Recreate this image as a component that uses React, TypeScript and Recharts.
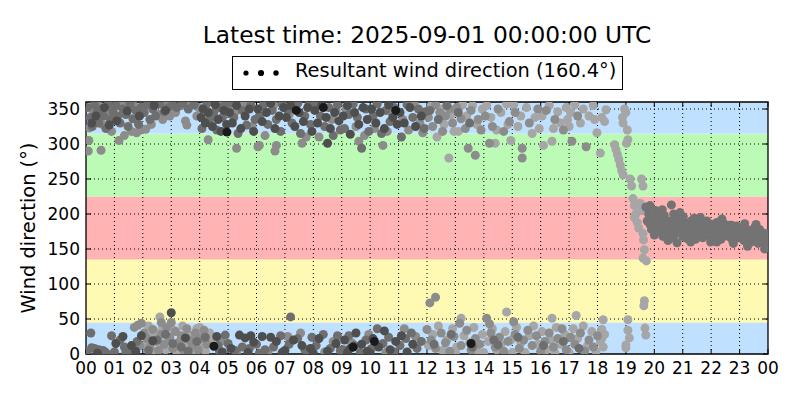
import React from 'react';
import { ScatterChart, Scatter, XAxis, YAxis, ReferenceArea, ReferenceLine, Legend, Label } from 'recharts';

const FONT = '"DejaVu Sans", Verdana, sans-serif';

const titleText = 'Latest time: 2025-09-01 00:00:00 UTC';
const legendText = 'Resultant wind direction (160.4°)';

const xTicks = [0, 1, 2, 3, 4, 5, 6, 7, 8, 9, 10, 11, 12, 13, 14, 15, 16, 17, 18, 19, 20, 21, 22, 23, 24];
const xTickLabels = ['00', '01', '02', '03', '04', '05', '06', '07', '08', '09', '10', '11', '12', '13', '14', '15', '16', '17', '18', '19', '20', '21', '22', '23', '00'];
const yTicks = [0, 50, 100, 150, 200, 250, 300, 350];
const bandEdges = [0, 45, 135, 225, 315, 360];

// [hour, degrees]
const pointsBlack: [number, number][] = [
  [4.96, 317], [7.4, 348], [8.35, 352], [10.9, 348], [4.5, 11], [9.4, 10], [10.15, 18], [13.55, 15],
];

const pointsDark: [number, number][] = [
  [0.2, 330], [0.35, 340], [0.65, 352], [0.82, 327], [1.08, 333], [1.45, 347], [1.88, 340], [2.4, 355], [2.8, 348],
  [4.05, 338], [4.12, 350], [4.2, 330], [4.3, 345], [4.45, 325], [4.55, 356], [4.65, 335], [4.75, 318], [4.85, 348], [4.95, 328],
  [5.05, 345], [5.15, 330], [5.3, 355], [5.45, 322], [5.6, 340], [5.75, 350], [5.9, 318],
  [6.05, 350], [6.2, 332], [6.35, 345], [6.5, 358], [6.65, 322], [6.8, 340], [6.95, 352],
  [7.05, 338], [7.2, 355], [7.35, 325], [7.5, 345], [7.65, 332], [7.8, 352], [7.95, 318],
  [8.05, 348], [8.15, 330], [8.3, 356], [8.45, 338], [8.5, 301], [8.6, 322], [8.75, 345], [8.9, 333],
  [9.05, 340], [9.2, 355], [9.3, 314], [9.45, 345], [9.6, 328], [9.75, 352], [9.9, 335],
  [10.05, 350], [10.2, 330], [10.35, 345], [10.5, 322], [10.65, 356], [10.8, 338], [10.95, 328],
  [11.05, 345], [11.2, 330], [11.4, 352], [11.6, 325], [11.8, 340],
  [1.05, 15], [1.3, 25], [1.6, 12], [1.95, 26], [1.75, 4], [0.4, 1], [3.0, 59], [2.35, 19], [3.5, 23],
  [4.6, 25], [5.4, 27], [5.6, 23], [5.8, 26], [5.9, 17], [6.2, 25], [6.5, 24], [6.7, 18], [7.0, 5], [7.3, 20],
  [7.6, 12], [7.9, 8], [8.2, 22], [8.5, 4], [8.8, 15], [5.1, 8], [5.7, 2], [6.9, 2], [8.0, 1], [4.8, 3],
  [9.1, 20], [9.3, 8], [9.5, 30], [9.7, 14], [9.9, 4], [10.1, 22], [10.3, 10], [10.5, 33], [10.7, 6], [10.9, 18],
  [11.1, 26], [11.3, 3], [11.5, 14], [9.2, 2], [10.0, 1],
];

const pointsMid: [number, number][] = [
  [0.05, 352], [0.15, 338], [0.22, 325], [0.3, 356], [0.38, 345], [0.45, 330], [0.55, 350], [0.62, 340], [0.7, 322], [0.78, 357], [0.85, 335], [0.95, 346],
  [1.05, 355], [1.12, 340], [1.2, 330], [1.3, 350], [1.4, 342], [1.48, 325], [1.55, 357], [1.65, 336], [1.75, 348], [1.85, 328], [1.95, 353],
  [2.05, 345], [2.15, 356], [2.25, 335], [2.35, 350], [2.45, 340], [2.6, 357], [2.75, 346], [2.9, 352],
  [3.05, 356], [3.2, 352], [3.4, 358], [3.6, 350], [3.8, 356],
  [4.08, 322], [4.25, 357], [4.35, 335], [4.5, 345], [4.6, 320], [4.7, 352], [4.8, 338], [4.9, 355],
  [5.1, 358], [5.2, 338], [5.35, 315], [5.5, 348], [5.65, 327], [5.8, 356], [5.95, 335],
  [6.1, 340], [6.25, 356], [6.4, 328], [6.55, 348], [6.7, 335], [6.85, 318], [6.9, 357],
  [7.1, 348], [7.25, 330], [7.45, 358], [7.55, 315], [7.7, 340], [7.85, 356], [7.9, 328],
  [8.1, 357], [8.25, 340], [8.4, 325], [8.55, 352], [8.7, 312], [8.85, 356], [8.95, 320],
  [9.1, 322], [9.25, 342], [9.4, 357], [9.55, 338], [9.7, 294], [9.85, 350], [9.95, 318],
  [10.1, 340], [10.25, 357], [10.4, 315], [10.55, 348], [10.7, 332], [10.85, 352],
  [11.1, 310], [11.3, 356], [11.5, 338], [11.7, 350], [11.9, 322], [11.95, 346],
  [12.1, 348], [12.4, 335], [12.7, 355], [13.1, 345], [13.5, 330],
  [0.17, 30], [0.2, 9], [0.3, 8], [0.45, 6], [0.6, 5], [0.9, 26], [1.2, 20], [1.35, 10], [1.55, 5], [1.8, 18], [0.05, 3], [0.7, 2], [1.0, 3], [1.4, 2],
  [2.2, 5], [2.5, 20], [2.8, 28], [3.05, 15], [3.35, 10], [3.6, 4], [3.9, 18], [4.2, 24],
  [4.65, 12], [4.9, 27], [5.0, 15], [5.25, 5], [5.5, 10], [5.75, 8], [6.0, 14], [6.3, 6], [6.6, 10], [6.85, 26], [7.15, 14], [7.2, 53],
  [7.45, 22], [7.7, 6], [7.95, 24], [8.1, 12], [8.35, 28], [8.6, 8], [8.85, 26], [8.95, 5], [4.7, 4], [6.1, 1], [7.85, 2],
  [9.05, 6], [9.25, 26], [9.45, 12], [9.65, 2], [9.85, 20], [10.05, 8], [10.25, 36], [10.45, 15], [10.65, 24], [10.85, 3],
  [11.05, 12], [11.25, 22], [11.45, 30], [11.65, 8], [11.8, 18],
  [12.25, 14], [12.85, 28], [13.6, 10], [14.35, 20], [14.5, 13], [15.2, 24], [16.1, 12], [16.8, 18], [17.35, 8],
];

// resultant direction after the wind shift (20–24 h)
const pointsTail: [number, number][] = [
  [19.7, 210], [19.75, 190], [19.8, 200], [19.85, 185], [19.9, 178], [19.95, 192], [20.0, 170], [20.05, 205], [20.15, 195], [20.2, 175],
  [20.25, 188], [20.35, 198], [20.4, 180], [20.45, 172], [20.5, 190], [20.55, 176], [20.6, 213], [20.65, 185], [20.7, 170], [20.75, 180],
  [20.8, 159], [20.85, 192], [20.95, 183], [21.0, 168], [21.05, 188], [21.1, 178], [21.15, 165], [21.25, 174], [21.3, 190], [21.35, 170],
  [21.4, 182], [21.5, 178], [21.55, 187], [21.6, 172], [21.65, 180], [21.7, 166], [21.75, 184], [21.8, 175], [21.85, 190], [21.95, 180],
  [22.0, 173], [22.05, 185], [22.1, 166], [22.15, 178], [22.25, 170], [22.3, 182], [22.4, 176], [22.45, 186], [22.5, 172], [22.55, 180],
  [22.6, 168], [22.65, 184], [22.7, 174], [22.8, 178], [22.85, 170], [22.9, 183], [22.95, 166], [23.0, 175], [23.05, 168], [23.1, 180],
  [23.2, 172], [23.3, 166], [23.35, 174], [23.45, 170], [23.5, 176], [23.55, 164], [23.6, 172], [23.75, 175], [23.8, 162], [23.85, 170],
  [23.95, 172], [23.98, 165], [20.02, 188], [20.38, 186], [20.72, 192], [21.12, 184], [21.52, 168], [21.92, 186], [22.32, 174], [22.72, 184],
  [23.12, 170], [23.52, 180], [23.92, 164], [20.6, 166], [21.3, 178], [22.1, 178], [22.9, 174], [23.7, 178],
  [20.3, 168], [20.9, 175], [21.45, 164], [21.9, 170], [22.35, 164], [22.75, 162], [23.15, 162], [23.4, 160], [23.65, 158], [23.9, 156],
  [20.1, 182], [21.2, 185], [22.2, 188], [23.25, 178],
  [19.85, 212], [20.08, 200], [20.28, 206], [20.48, 162], [20.68, 200], [21.02, 196], [21.28, 160], [21.62, 195], [21.98, 160],
  [22.38, 193], [22.78, 158], [23.18, 186], [23.58, 185], [23.88, 150], [23.28, 154], [22.2, 160], [21.4, 194], [20.9, 202],
];

const pointsGray: [number, number][] = [
  [0.1, 305], [0.12, 323], [0.08, 290], [0.25, 348], [0.42, 355], [0.53, 291], [0.58, 328], [0.75, 346], [0.9, 318], [0.98, 352],
  [1.16, 305], [1.35, 312], [1.6, 318], [1.78, 316], [1.9, 320], [1.25, 358], [1.7, 354],
  [2.1, 321], [2.3, 328], [2.55, 342], [2.7, 335], [2.85, 358], [2.95, 340],
  [3.15, 345], [3.35, 355], [3.5, 333], [3.7, 357], [3.9, 340], [3.97, 352], [3.55, 327],
  [4.3, 306], [4.4, 342], [4.72, 358], [5.3, 294], [5.25, 346], [5.55, 358], [5.85, 325],
  [6.05, 296], [6.1, 298], [6.65, 290], [6.7, 298], [6.3, 312], [6.6, 355],
  [7.6, 301], [7.15, 342], [7.75, 310], [8.2, 310], [8.65, 335], [8.8, 348],
  [9.6, 304], [9.15, 350], [9.5, 325], [9.8, 312], [10.45, 298], [10.6, 318], [10.15, 322], [10.75, 345],
  [11.15, 335], [11.35, 320], [11.55, 357], [11.75, 330], [11.85, 316],
  [12.05, 338], [12.2, 325], [12.3, 356], [12.45, 345], [12.55, 318], [12.65, 340], [12.8, 350], [12.9, 330],
  [13.05, 352], [13.2, 336], [13.35, 322], [13.45, 294], [13.55, 348], [13.7, 284], [13.8, 335], [13.9, 320],
  [14.05, 340], [14.2, 301], [14.3, 325], [14.5, 350], [14.7, 318], [14.9, 332],
  [15.1, 345], [15.35, 294], [15.35, 280], [15.6, 330], [15.9, 350], [16.2, 348], [16.5, 335], [16.8, 320],
  [17.1, 304], [17.3, 340], [17.6, 296],
  [1.7, 38], [1.82, 41], [1.95, 44], [1.9, 12],
  [2.05, 30], [2.15, 22], [2.25, 10], [2.35, 35], [2.45, 18], [2.55, 5], [2.65, 28], [2.75, 14], [2.85, 38], [2.95, 24],
  [3.05, 8], [3.15, 32], [3.25, 16], [3.35, 26], [3.45, 4], [3.55, 36], [3.65, 20], [3.75, 12], [3.85, 30], [3.95, 6],
  [4.05, 22], [4.15, 34], [4.25, 14], [2.65, 45], [3.0, 45],
  [4.75, 18], [5.3, 2], [6.4, 3], [7.1, 25], [7.55, 30], [8.4, 3], [8.7, 18],
  [9.35, 16], [9.95, 28], [10.55, 2], [11.2, 36], [11.6, 25],
  [12.0, 35], [12.15, 20], [12.3, 8], [12.5, 30], [12.65, 16], [12.8, 4], [12.95, 25], [13.15, 44], [13.2, 12], [13.4, 34],
  [13.55, 6], [13.7, 22], [13.85, 14], [14.1, 51], [14.2, 43], [14.25, 30], [14.4, 10], [14.55, 24], [14.7, 4], [14.85, 18],
  [15.05, 46], [15.1, 28], [15.25, 8], [15.4, 20], [15.55, 34], [15.7, 12], [15.85, 26], [16.0, 4], [16.15, 18], [16.3, 30],
  [16.45, 10], [16.6, 22], [16.75, 36], [16.9, 6], [17.05, 24], [17.2, 14], [17.4, 30], [17.55, 4], [17.7, 20], [17.85, 10],
  [18.0, 26], [12.1, 73], [12.3, 81],
];

const pointsLight: [number, number][] = [
  [12.15, 355], [12.35, 310], [12.5, 350], [12.6, 328], [12.77, 280], [12.85, 342], [12.95, 318],
  [13.1, 318], [13.25, 356], [13.4, 340], [13.6, 355], [13.75, 328], [13.95, 350],
  [14.1, 355], [14.25, 338], [14.4, 301], [14.45, 320], [14.6, 345], [14.8, 357], [14.95, 305], [14.85, 328],
  [15.05, 356], [15.2, 325], [15.3, 340], [15.5, 352], [15.7, 315], [15.8, 338], [15.95, 322],
  [16.05, 340], [16.1, 298], [16.3, 355], [16.4, 304], [16.45, 322], [16.6, 346], [16.7, 330], [16.9, 352], [16.95, 335],
  [17.0, 325], [17.05, 345], [17.2, 356], [17.4, 330], [17.5, 350], [17.7, 340], [17.85, 355], [17.98, 316], [17.9, 335],
  [18.15, 338], [18.25, 332], [18.1, 287], [18.3, 349], [18.88, 338], [18.95, 350], [19.0, 345], [18.9, 330], [19.05, 320],
  [19.07, 306], [19.02, 301],
  [18.6, 299], [18.65, 292], [18.7, 285], [18.75, 278], [18.8, 270], [18.85, 262], [18.9, 256], [19.15, 250], [19.2, 240],
  [19.55, 250], [19.6, 240], [19.25, 222], [19.3, 212], [19.35, 200], [19.3, 195], [19.5, 215], [19.55, 205], [19.4, 188],
  [19.45, 180], [19.6, 172], [19.62, 163], [19.65, 149], [19.6, 137], [19.72, 133], [19.65, 76], [19.63, 69], [19.67, 37], [19.7, 27],
  [19.07, 49], [19.07, 34], [19.12, 23], [19.0, 13], [19.0, 9], [18.2, 49], [18.15, 35], [18.15, 22], [18.2, 10],
  [2.1, 12], [2.2, 40], [2.3, 25], [2.4, 3], [2.5, 30], [2.6, 16], [2.7, 38], [2.8, 6], [2.9, 20], [3.1, 34], [3.2, 2],
  [3.3, 18], [3.4, 40], [3.5, 12], [3.6, 28], [3.7, 2], [3.8, 22], [3.9, 36], [4.0, 10], [4.1, 26], [4.2, 4], [4.35, 30],
  [4.4, 18], [2.6, 53], [4.0, 38],
  [12.05, 12], [12.2, 28], [12.4, 40], [12.55, 5], [12.7, 20], [12.9, 36], [13.05, 10], [13.2, 51], [13.3, 26], [13.5, 16],
  [13.65, 38], [13.8, 2], [13.95, 28], [14.15, 18], [14.3, 36], [14.45, 6], [14.6, 14], [14.75, 32], [14.8, 60], [14.95, 20],
  [15.15, 38], [15.3, 16], [15.45, 2], [15.6, 26], [15.75, 40], [15.9, 14], [16.05, 32], [16.2, 6], [16.4, 51], [16.35, 20],
  [16.55, 38], [16.7, 14], [16.85, 28], [17.0, 2], [17.15, 36], [17.25, 55], [17.3, 22], [17.5, 40], [17.65, 12], [17.8, 32],
  [17.95, 4], [18.1, 18], [18.25, 28], [16.5, 2], [14.0, 2], [15.0, 2], [13.0, 2],
];

const BAND_COLORS = ['#bfe0ff', '#fffab3', '#ffb3b3', '#bbfbb6', '#bfe0ff'];
const SHADES = { light: '#a6a6a6', gray: '#8c8c8c', tail: '#737373', mid: '#6e6e6e', dark: '#4e4e4e', black: '#1a1a1a' };

const toData = (arr: [number, number][]) => arr.map(([h, d]) => ({ h, d }));

const dot = (fill: string) => (props: any) => (
  <circle cx={props.cx} cy={props.cy} r={4.5} fill={fill} stroke="none" />
);

const LegendContent = () => (
  <div style={{ position: 'relative', width: 800, height: 0, fontFamily: FONT, color: '#000' }}>
    <div style={{ position: 'absolute', left: 86, top: 21, width: 682, textAlign: 'center', fontSize: 23.3, lineHeight: '28px', whiteSpace: 'nowrap' }}>
      {titleText}
    </div>
    <div style={{ position: 'absolute', left: 232, top: 56, width: 391, height: 34, boxSizing: 'border-box', border: '1px solid #000', background: '#fff' }}>
      <svg width={50} height={32} style={{ position: 'absolute', left: 0, top: 0 }}>
        <circle cx={13} cy={16} r={2.6} fill="#000" />
        <circle cx={28} cy={16} r={3.1} fill="#000" />
        <circle cx={43} cy={16} r={2.7} fill="#000" />
      </svg>
      <div style={{ position: 'absolute', left: 62, top: 2, fontSize: 19.4, lineHeight: '24px', whiteSpace: 'nowrap' }}>{legendText}</div>
    </div>
  </div>
);

export default function App() {
  return (
    <div style={{ position: 'absolute', left: 0, top: 0, width: 800, height: 400, background: '#fff' }}>
      <ScatterChart width={800} height={400} margin={{ top: 101, right: 0, bottom: 16, left: 0 }}>
        <XAxis xAxisId="top" orientation="top" type="number" dataKey="h" domain={[0, 24]} ticks={xTicks} height={1}
          tickSize={-5} axisLine={false} tickLine={{ stroke: '#000' }} tick={() => <g />} allowDataOverflow />
        <YAxis yAxisId="right" orientation="right" type="number" dataKey="d" domain={[0, 360]} ticks={yTicks} width={32}
          tickSize={-5} axisLine={false} tickLine={{ stroke: '#000' }} tick={() => <g />} allowDataOverflow />
        <XAxis type="number" dataKey="h" domain={[0, 24]} ticks={xTicks} height={30} interval={0}
          tickFormatter={(v: number) => xTickLabels[xTicks.indexOf(v)]}
          tickSize={-5} tickMargin={13} axisLine={false} tickLine={{ stroke: '#000' }}
          tick={{ fill: '#000', fontSize: 17, fontFamily: FONT }} allowDataOverflow />
        <YAxis type="number" dataKey="d" domain={[0, 360]} ticks={yTicks} width={86} interval={0}
          tickSize={-5} tickMargin={11} axisLine={false} tickLine={{ stroke: '#000' }}
          tick={{ fill: '#000', fontSize: 17, fontFamily: FONT }} allowDataOverflow>
          <Label content={() => (
            <text x={35} y={228} transform="rotate(-90 35 228)" textAnchor="middle" fontSize={19.4} fontFamily={FONT} fill="#000">
              Wind direction (°)
            </text>
          )} />
        </YAxis>
        {bandEdges.slice(0, -1).map((lo, i) => (
          <ReferenceArea key={'b' + i} x1={0} x2={24} y1={lo} y2={bandEdges[i + 1]} fill={BAND_COLORS[i]} fillOpacity={1} stroke="none" ifOverflow="hidden" />
        ))}
        {xTicks.slice(1, -1).map((t) => (
          <ReferenceLine key={'gx' + t} x={t} stroke="#000" strokeWidth={1} strokeDasharray="1 3" />
        ))}
        {yTicks.slice(1).map((t) => (
          <ReferenceLine key={'gy' + t} y={t} stroke="#000" strokeWidth={1} strokeDasharray="1 3" />
        ))}
        <Scatter data={toData(pointsLight)} fill={SHADES.light} shape={dot(SHADES.light)} isAnimationActive={false} />
        <Scatter data={toData(pointsGray)} fill={SHADES.gray} shape={dot(SHADES.gray)} isAnimationActive={false} />
        <Scatter data={toData(pointsMid)} fill={SHADES.mid} shape={dot(SHADES.mid)} isAnimationActive={false} />
        <Scatter data={toData(pointsDark)} fill={SHADES.dark} shape={dot(SHADES.dark)} isAnimationActive={false} />
        <Scatter data={toData(pointsTail)} fill={SHADES.tail} shape={dot(SHADES.tail)} isAnimationActive={false} />
        <Scatter data={toData(pointsBlack)} fill={SHADES.black} shape={dot(SHADES.black)} isAnimationActive={false} />
        <ReferenceArea x1={0} x2={24} y1={0} y2={360} fill="none" stroke="#000" strokeWidth={1.3} />
        <Legend layout="horizontal" verticalAlign="middle" align="center" wrapperStyle={{ top: 0, left: 0, width: 800 }} content={LegendContent} />
      </ScatterChart>
    </div>
  );
}
